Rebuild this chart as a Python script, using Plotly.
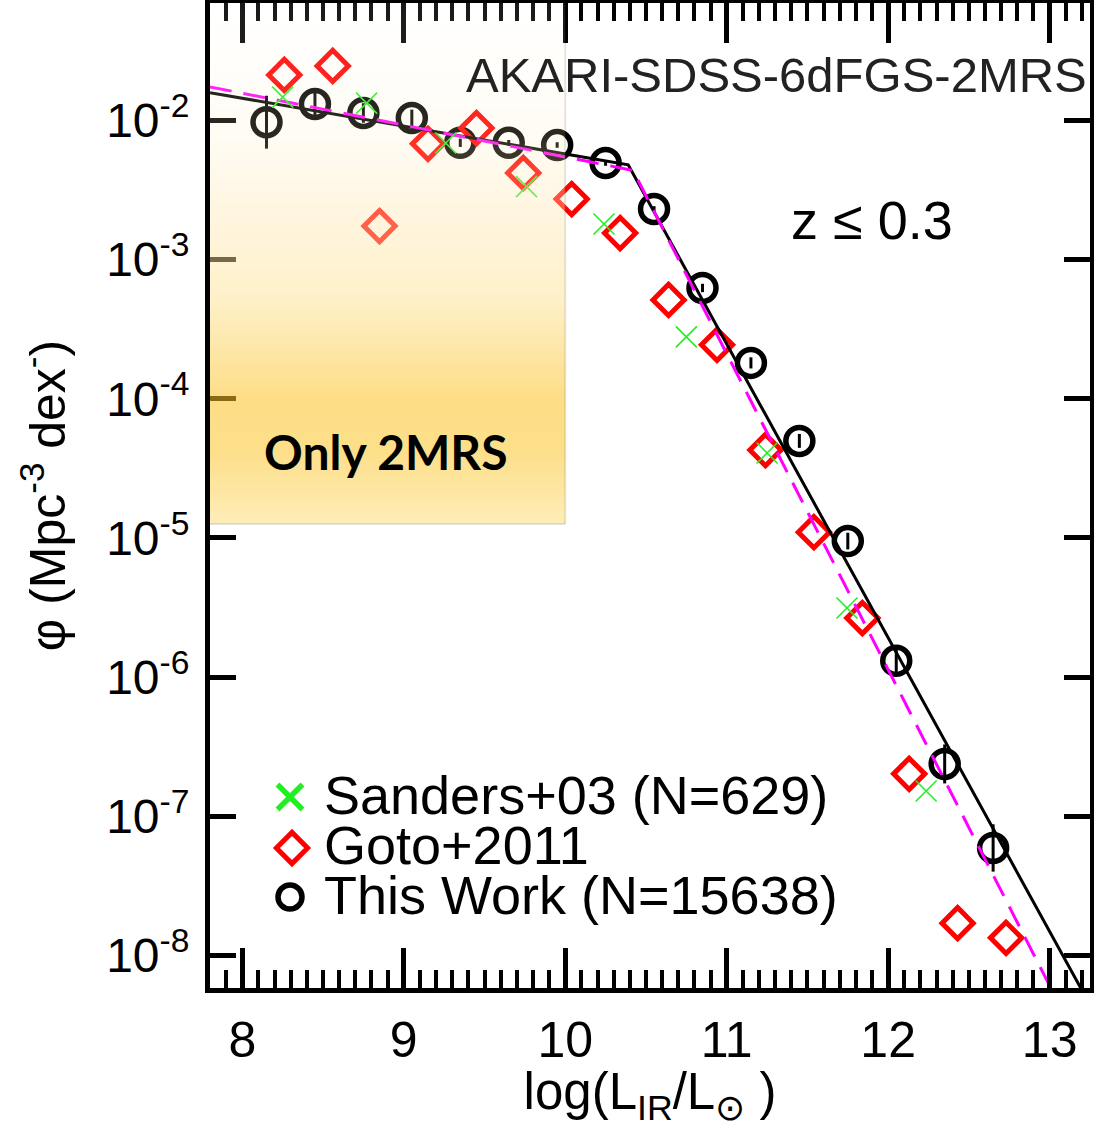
import plotly.graph_objects as go

# ---------------- data ----------------
this_x = [8.15, 8.45, 8.75, 9.05, 9.35, 9.65, 9.95, 10.25, 10.55, 10.85,
          11.15, 11.45, 11.75, 12.05, 12.35, 12.65]
this_phi = [9.7e-3, 1.31e-2, 1.13e-2, 1.04e-2, 6.9e-3, 6.9e-3, 6.65e-3, 4.94e-3,
            2.31e-3, 6.25e-4, 1.81e-4, 4.98e-5, 9.5e-6, 1.31e-6, 2.38e-7, 5.93e-8]
this_err_dex = [0.19, 0.08, 0.07, 0.06, 0.03, 0.02, 0.02, 0.02,
                0.02, 0.03, 0.04, 0.05, 0.06, 0.11, 0.14, 0.17]

goto_x = [8.26, 8.56, 8.85, 9.15, 9.45, 9.74, 10.04, 10.34, 10.64, 10.94,
          11.24, 11.54, 11.84, 12.13, 12.43, 12.73]
goto_phi = [2.12e-2, 2.46e-2, 1.74e-3, 6.78e-3, 8.8e-3, 4.19e-3, 2.72e-3, 1.55e-3,
            5.13e-4, 2.44e-4, 4.28e-5, 1.1e-5, 2.66e-6, 2.02e-7, 1.71e-8, 1.34e-8]

sanders_x = [8.25, 8.77, 9.26, 9.76, 10.24, 10.75, 11.25, 11.745, 12.235]
sanders_phi = [1.47e-2, 1.33e-2, 6.87e-3, 3.34e-3, 1.8e-3, 2.78e-4, 4.08e-5, 3.14e-6, 1.52e-7]

# double power-law fits (vertices)
fit_x = [7.8, 10.39, 13.3]
fit_phi = [1.58e-2, 4.79e-3, 3.47e-9]
fit2_x = [7.8, 10.42, 13.05]
fit2_phi = [1.74e-2, 4.37e-3, 4.68e-9]

x_ticks = [8, 9, 10, 11, 12, 13]
y_tickvals = [1e-8, 1e-7, 1e-6, 1e-5, 1e-4, 1e-3, 1e-2]
y_ticktext = ["10<sup>-8</sup>", "10<sup>-7</sup>", "10<sup>-6</sup>", "10<sup>-5</sup>",
              "10<sup>-4</sup>", "10<sup>-3</sup>", "10<sup>-2</sup>"]

legend_labels = ["Sanders+03 (N=629)", "Goto+2011", "This Work (N=15638)"]

# ---------------- layout geometry ----------------
FIG_W, FIG_H = 1094, 1128
L, R, T, B = 210, 1090, 3, 988
PW, PH = R - L, B - T
X_RANGE = [7.8, 13.25]
Y_RANGE = [-8.233, -1.157]   # log10 units

FONT = "Liberation Sans, Arial, Helvetica, sans-serif"


def paper(xp, yp):
    return (xp - L) / PW, (B - yp) / PH


def log_to_paper(lg):
    return (lg - Y_RANGE[0]) / (Y_RANGE[1] - Y_RANGE[0])


plus = [p * (10 ** e - 1) for p, e in zip(this_phi, this_err_dex)]
minus = [p * (1 - 10 ** (-e)) for p, e in zip(this_phi, this_err_dex)]

fig = go.Figure()

fig.add_trace(go.Scatter(
    x=this_x, y=this_phi, mode="markers", showlegend=False,
    marker=dict(symbol="circle-open", size=27, color="black", line=dict(width=5.5, color="black")),
    error_y=dict(type="data", symmetric=False, array=plus, arrayminus=minus,
                 color="black", thickness=3, width=0),
))
fig.add_trace(go.Scatter(
    x=goto_x, y=goto_phi, mode="markers", showlegend=False,
    marker=dict(symbol="diamond-open", size=24, color="#FF0000", line=dict(width=5, color="#FF0000")),
))
fig.add_trace(go.Scatter(
    x=fit_x, y=fit_phi, mode="lines", showlegend=False,
    line=dict(color="black", width=3),
))
fig.add_trace(go.Scatter(
    x=fit2_x, y=fit2_phi, mode="lines", showlegend=False,
    line=dict(color="#FF00FF", width=3, dash="22px,12px"),
))
fig.add_trace(go.Scatter(
    x=sanders_x, y=sanders_phi, mode="markers", showlegend=False,
    marker=dict(symbol="x-thin-open", size=21, color="#22EE22", line=dict(width=1.6, color="#22EE22")),
))

# ---------------- manual legend (overlay axes in [0,1]) ----------------
leg_sym = [("x-thin-open", 25, 5.5, "#22EE22", 290, 797),
           ("diamond-open", 24, 5, "#FF0000", 292, 848),
           ("circle-open", 24, 5.5, "black", 290, 897)]
for sym, sz, lw, col, xp, yp in leg_sym:
    px_, py_ = paper(xp, yp)
    fig.add_trace(go.Scatter(
        x=[px_], y=[py_], xaxis="x2", yaxis="y2", mode="markers", showlegend=False,
        marker=dict(symbol=sym, size=sz, color=col, line=dict(width=lw, color=col)),
        hoverinfo="skip",
    ))

annotations = []
for lab, yp in zip(legend_labels, [795, 845, 895]):
    ax_, ay_ = paper(322, yp)
    annotations.append(dict(text=lab, x=ax_, y=ay_, xref="paper", yref="paper",
                            xanchor="left", yanchor="middle", showarrow=False,
                            font=dict(family=FONT, size=54, color="black")))

ax_, ay_ = paper(1089, 75)
annotations.append(dict(text="AKARI-SDSS-6dFGS-2MRS", x=ax_, y=ay_, xref="paper", yref="paper",
                        xanchor="right", yanchor="middle", showarrow=False,
                        font=dict(family=FONT, size=49, color="#222222")))
ax_, ay_ = paper(872, 220)
annotations.append(dict(text="z ≤ 0.3", x=ax_, y=ay_, xref="paper", yref="paper",
                        xanchor="center", yanchor="middle", showarrow=False,
                        font=dict(family=FONT, size=54, color="black")))
ax_, ay_ = paper(386, 452)
annotations.append(dict(text="<b>Only 2MRS</b>", x=ax_, y=ay_, xref="paper", yref="paper",
                        xanchor="center", yanchor="middle", showarrow=False,
                        font=dict(family="Lato, Open Sans, sans-serif", size=48, color="black")))

# ---------------- gradient "Only 2MRS" box ----------------
box_x1 = 10.0
box_bottom_log = -4.9
box_top_px = T
box_bot_px = round(B - log_to_paper(box_bottom_log) * PH)
# (t, background colour seen on white, opacity)
stops = [(0.00, (255, 255, 255), 0.10),
         (0.25, (255, 252, 244), 0.17),
         (0.42, (255, 245, 222), 0.42),
         (0.57, (254, 240, 200), 0.50),
         (0.76, (253, 221, 134), 0.55),
         (0.86, (253, 223, 138), 0.55),
         (0.95, (254, 232, 168), 0.50),
         (1.00, (254, 237, 185), 0.45)]


def interp(t):
    for (t0, c0, a0), (t1, c1, a1) in zip(stops[:-1], stops[1:]):
        if t0 <= t <= t1:
            f = (t - t0) / (t1 - t0) if t1 > t0 else 0
            c = [c0[i] + f * (c1[i] - c0[i]) for i in range(3)]
            return c, a0 + f * (a1 - a0)
    return list(stops[-1][1]), stops[-1][2]


shapes = []
step = 4
y = box_top_px
while y < box_bot_px:
    y2 = min(y + step, box_bot_px)
    t = ((y + y2) / 2 - box_top_px) / (box_bot_px - box_top_px)
    bg, a = interp(t)
    col = [max(0, min(255, 255 - (255 - bg[i]) / a)) for i in range(3)]
    shapes.append(dict(type="rect", layer="above", xref="x", yref="paper",
                       x0=X_RANGE[0], x1=box_x1, y0=(B - y2) / PH, y1=(B - y) / PH,
                       line=dict(width=0),
                       fillcolor=f"rgba({col[0]:.0f},{col[1]:.0f},{col[2]:.0f},{a:.3f})"))
    y = y2
# faint shadow on the right and bottom edges
shapes.append(dict(type="line", layer="above", xref="x", yref="paper",
                   x0=box_x1, x1=box_x1, y0=(B - box_bot_px) / PH, y1=1,
                   line=dict(color="rgba(0,0,0,0.10)", width=2)))
shapes.append(dict(type="line", layer="above", xref="x", yref="paper",
                   x0=X_RANGE[0], x1=box_x1, y0=(B - box_bot_px) / PH, y1=(B - box_bot_px) / PH,
                   line=dict(color="rgba(0,0,0,0.10)", width=2)))

fig.update_layout(
    width=FIG_W, height=FIG_H,
    margin=dict(l=L, r=FIG_W - R, t=T, b=FIG_H - B, pad=0, autoexpand=False),
    paper_bgcolor="white", plot_bgcolor="white",
    font=dict(family=FONT, color="black"),
    shapes=shapes, annotations=annotations,
    xaxis=dict(
        automargin=False,
        range=X_RANGE, tickvals=x_ticks, ticktext=[str(v) for v in x_ticks],
        ticks="inside", ticklen=40, tickwidth=5, tickcolor="black",
        minor=dict(dtick=0.1, tick0=8, ticks="inside", ticklen=18, tickwidth=4, tickcolor="black"),
        showline=True, linewidth=5, linecolor="black", mirror="allticks",
        showgrid=False, zeroline=False,
        tickfont=dict(family=FONT, size=50), ticklabelstandoff=4,
        title=dict(text="log(L<sub>IR</sub>/L<sub>⊙</sub> )", font=dict(family=FONT, size=51), standoff=24),
    ),
    yaxis=dict(
        automargin=False,
        type="log", range=Y_RANGE, tickvals=y_tickvals, ticktext=y_ticktext,
        ticks="inside", ticklen=26, tickwidth=5, tickcolor="black",
        showline=True, linewidth=5, linecolor="black", mirror="allticks",
        showgrid=False, zeroline=False,
        tickfont=dict(family=FONT, size=48), ticklabelstandoff=6,
        title=dict(text="φ (Mpc<sup>-3</sup> dex<sup>-</sup>)", font=dict(family=FONT, size=50), standoff=26),
    ),
    xaxis2=dict(overlaying="x", range=[0, 1], visible=False, fixedrange=True, automargin=False),
    yaxis2=dict(overlaying="y", range=[0, 1], visible=False, fixedrange=True, automargin=False),
)

fig.write_html("out.html", config={"displayModeBar": False},
               post_script="document.body.style.margin='0';document.body.style.overflow='hidden';")
